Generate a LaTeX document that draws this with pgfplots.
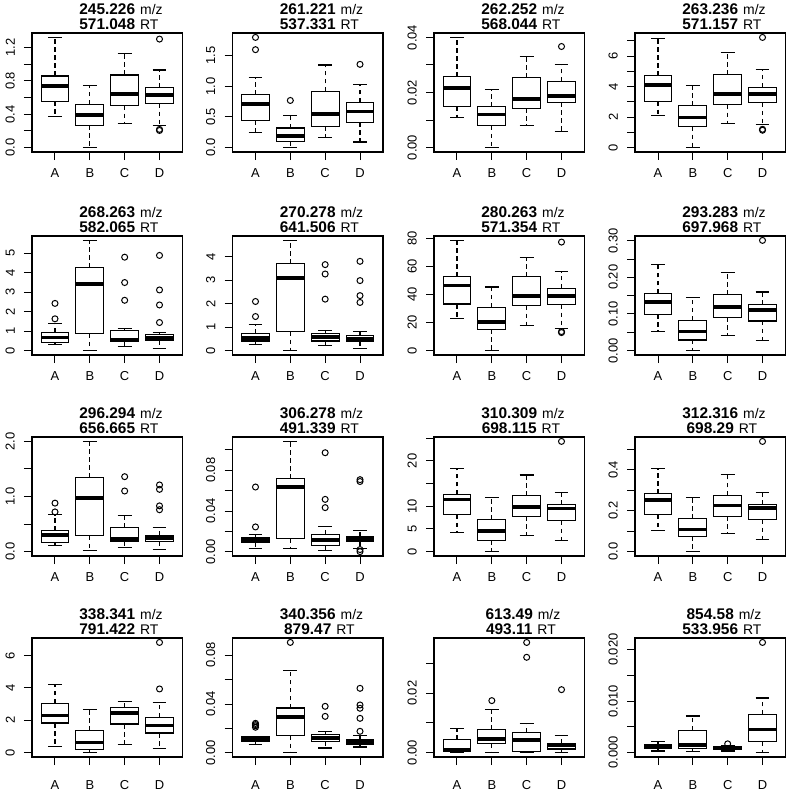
\documentclass[border=0pt]{standalone}
\usepackage{pgfplots}
\pgfplotsset{compat=1.18}
\usepgfplotslibrary{statistics}
\usepackage{fontspec}
\setmainfont{Liberation Sans}
\newcommand{\mz}{\fontsize{14}{14}\selectfont\mdseries}
\newcommand{\ttl}[2]{{\bfseries #1}\rlap{\hspace{5bp}\mz m/z}\\{\bfseries #2}\rlap{\hspace{5bp}\mz RT}}
\pgfplotsset{
  rbox/.style={
    scale only axis, width=150.5bp, height=119bp, anchor=north west,
    xmin=0.34, xmax=4.66, xtick={1,2,3,4}, xticklabels={A,B,C,D},
    scaled ticks=false,
    tick align=outside, tick pos=left, major tick length=8bp,
    every tick/.style={black, line width=1bp},
    axis line style={line width=1.1bp},
    tick label style={font=\fontsize{13}{13}\selectfont},
    yticklabel style={xshift=-9bp, rotate=90, anchor=south, inner sep=0pt},
    xticklabel style={anchor=base, inner sep=0pt, yshift=-17.5bp},
    title style={at={(0.5,1)}, anchor=south, inner sep=0pt, yshift=-2.5bp, align=center, font=\fontsize{15.5}{14.5}\selectfont},
    clip=false,
    boxplot/draw direction=y,
    boxplot/box extend=0.8,
    boxplot/whisker extend=0.4,
    boxplot/every median/.style={line width=3.8bp},
    boxplot/every box/.style={line width=1.1bp},
    boxplot/draw/lower whisker/.code={%
      \draw[line width=1.1bp, dash pattern=on 4.5bp off 3.5bp]
        (boxplot box cs:\pgfplotsboxplotvalue{lower quartile},0.5) --
        (boxplot box cs:\pgfplotsboxplotvalue{lower whisker},0.5);
      \draw[line width=1.1bp]
        (boxplot whisker cs:\pgfplotsboxplotvalue{lower whisker},0) --
        (boxplot whisker cs:\pgfplotsboxplotvalue{lower whisker},1);
    },
    boxplot/draw/upper whisker/.code={%
      \draw[line width=1.1bp, dash pattern=on 4.5bp off 3.5bp]
        (boxplot box cs:\pgfplotsboxplotvalue{upper quartile},0.5) --
        (boxplot box cs:\pgfplotsboxplotvalue{upper whisker},0.5);
      \draw[line width=1.1bp]
        (boxplot whisker cs:\pgfplotsboxplotvalue{upper whisker},0) --
        (boxplot whisker cs:\pgfplotsboxplotvalue{upper whisker},1);
    },
    every axis plot/.append style={black, line width=1.1bp, mark=o, mark size=3bp, mark options={solid, line width=1bp}},
  },
  row4/.style={xticklabel style={yshift=-7bp}},
}
\begin{document}
\begin{tikzpicture}
\useasboundingbox (0,0) rectangle (790bp,-793bp);
% ---------- row 1 ----------
\begin{axis}[rbox, at={(32bp,-33bp)}, title={\ttl{245.226}{571.048}},
  ymin=-0.053, ymax=1.373, ytick={0,0.2,0.4,0.6,0.8,1.0,1.2}, yticklabels={0.0,,0.4,,0.8,,1.2}]
\addplot[boxplot prepared={draw position=1, lower whisker=0.377, lower quartile=0.555, median=0.739, upper quartile=0.858, upper whisker=1.32}] coordinates {};
\addplot[boxplot prepared={draw position=2, lower whisker=0.0, lower quartile=0.269, median=0.393, upper quartile=0.52, upper whisker=0.743}] coordinates {};
\addplot[boxplot prepared={draw position=3, lower whisker=0.286, lower quartile=0.504, median=0.644, upper quartile=0.87, upper whisker=1.13}] coordinates {};
\addplot[boxplot prepared={draw position=4, lower whisker=0.269, lower quartile=0.528, median=0.627, upper quartile=0.715, upper whisker=0.93}] coordinates {(0,1.30) (0,0.218) (0,0.205)};
\end{axis}
\begin{axis}[rbox, at={(232.5bp,-33bp)}, title={\ttl{261.221}{537.331}},
  ymin=-0.072, ymax=1.872, ytick={0,0.5,1,1.5}, yticklabels={0.0,0.5,1.0,1.5}]
\addplot[boxplot prepared={draw position=1, lower whisker=0.24, lower quartile=0.446, median=0.717, upper quartile=0.864, upper whisker=1.15}] coordinates {(0,1.80) (0,1.60)};
\addplot[boxplot prepared={draw position=2, lower whisker=0.0, lower quartile=0.103, median=0.185, upper quartile=0.32, upper whisker=0.53}] coordinates {(0,0.77)};
\addplot[boxplot prepared={draw position=3, lower whisker=0.158, lower quartile=0.348, median=0.554, upper quartile=0.92, upper whisker=1.35}] coordinates {};
\addplot[boxplot prepared={draw position=4, lower whisker=0.092, lower quartile=0.413, median=0.59, upper quartile=0.74, upper whisker=1.03}] coordinates {(0,1.36)};
\end{axis}
\begin{axis}[rbox, at={(434bp,-33bp)}, title={\ttl{262.252}{568.044}},
  ymin=-0.0016, ymax=0.0416, ytick={0,0.01,0.02,0.03,0.04}, yticklabels={0.00,,0.02,,0.04}]
\addplot[boxplot prepared={draw position=1, lower whisker=0.0108, lower quartile=0.0149, median=0.0216, upper quartile=0.0257, upper whisker=0.040}] coordinates {};
\addplot[boxplot prepared={draw position=2, lower whisker=0.0, lower quartile=0.0079, median=0.012, upper quartile=0.0148, upper whisker=0.021}] coordinates {};
\addplot[boxplot prepared={draw position=3, lower whisker=0.0079, lower quartile=0.0143, median=0.0176, upper quartile=0.0253, upper whisker=0.0331}] coordinates {};
\addplot[boxplot prepared={draw position=4, lower whisker=0.0057, lower quartile=0.0164, median=0.0188, upper quartile=0.024, upper whisker=0.0303}] coordinates {(0,0.0367)};
\end{axis}
\begin{axis}[rbox, at={(635bp,-33bp)}, title={\ttl{263.236}{571.157}},
  ymin=-0.289, ymax=7.52, ytick={0,1,2,3,4,5,6,7}, yticklabels={0,,2,,4,,6,}]
\addplot[boxplot prepared={draw position=1, lower whisker=2.10, lower quartile=3.01, median=4.13, upper quartile=4.72, upper whisker=7.16}] coordinates {};
\addplot[boxplot prepared={draw position=2, lower whisker=0.0, lower quartile=1.38, median=1.97, upper quartile=2.75, upper whisker=4.06}] coordinates {};
\addplot[boxplot prepared={draw position=3, lower whisker=1.59, lower quartile=2.82, median=3.54, upper quartile=4.78, upper whisker=6.22}] coordinates {};
\addplot[boxplot prepared={draw position=4, lower whisker=1.51, lower quartile=2.93, median=3.52, upper quartile=3.97, upper whisker=5.15}] coordinates {(0,7.23) (0,1.20) (0,1.14)};
\end{axis}
% ---------- row 2 ----------
\begin{axis}[rbox, at={(32bp,-236bp)}, title={\ttl{268.263}{582.065}},
  ymin=-0.226, ymax=5.876, ytick={0,1,2,3,4,5}, yticklabels={0,1,2,3,4,5}]
\addplot[boxplot prepared={draw position=1, lower whisker=0.29, lower quartile=0.41, median=0.67, upper quartile=0.93, upper whisker=1.39}] coordinates {(0,2.42) (0,1.63)};
\addplot[boxplot prepared={draw position=2, lower whisker=0.0, lower quartile=0.86, median=3.42, upper quartile=4.26, upper whisker=5.65}] coordinates {};
\addplot[boxplot prepared={draw position=3, lower whisker=0.21, lower quartile=0.48, median=0.57, upper quartile=1.03, upper whisker=1.15}] coordinates {(0,4.79) (0,3.49) (0,2.58)};
\addplot[boxplot prepared={draw position=4, lower whisker=0.12, lower quartile=0.50, median=0.65, upper quartile=0.84, upper whisker=0.91}] coordinates {(0,4.88) (0,3.11) (0,2.34) (0,1.44)};
\end{axis}
\begin{axis}[rbox, at={(232.5bp,-236bp)}, title={\ttl{270.278}{641.506}},
  ymin=-0.188, ymax=4.878, ytick={0,1,2,3,4}, yticklabels={0,1,2,3,4}]
\addplot[boxplot prepared={draw position=1, lower whisker=0.27, lower quartile=0.41, median=0.54, upper quartile=0.71, upper whisker=1.10}] coordinates {(0,2.09) (0,1.45)};
\addplot[boxplot prepared={draw position=2, lower whisker=0.0, lower quartile=0.81, median=3.09, upper quartile=3.69, upper whisker=4.69}] coordinates {};
\addplot[boxplot prepared={draw position=3, lower whisker=0.2, lower quartile=0.41, median=0.57, upper quartile=0.74, upper whisker=0.84}] coordinates {(0,3.66) (0,3.26) (0,2.19)};
\addplot[boxplot prepared={draw position=4, lower whisker=0.1, lower quartile=0.38, median=0.50, upper quartile=0.63, upper whisker=0.81}] coordinates {(0,3.80) (0,2.98) (0,2.34) (0,2.05)};
\end{axis}
\begin{axis}[rbox, at={(434bp,-236bp)}, title={\ttl{280.263}{571.354}},
  ymin=-3.15, ymax=81.95, ytick={0,20,40,60,80}, yticklabels={0,20,40,60,80}]
\addplot[boxplot prepared={draw position=1, lower whisker=23.0, lower quartile=33.3, median=46.5, upper quartile=52.7, upper whisker=78.8}] coordinates {};
\addplot[boxplot prepared={draw position=2, lower whisker=0, lower quartile=15.1, median=20.6, upper quartile=31.1, upper whisker=45.5}] coordinates {};
\addplot[boxplot prepared={draw position=3, lower whisker=18.2, lower quartile=32.1, median=39.3, upper quartile=52.9, upper whisker=66.3}] coordinates {};
\addplot[boxplot prepared={draw position=4, lower whisker=15.6, lower quartile=32.8, median=39.3, upper quartile=44.6, upper whisker=56.3}] coordinates {(0,77.6) (0,13.6) (0,12.9)};
\end{axis}
\begin{axis}[rbox, at={(635bp,-236bp)}, title={\ttl{293.283}{697.968}},
  ymin=-0.012, ymax=0.313, ytick={0,0.05,0.10,0.15,0.20,0.25,0.30}, yticklabels={0.00,,0.10,,0.20,,0.30}]
\addplot[boxplot prepared={draw position=1, lower whisker=0.051, lower quartile=0.099, median=0.133, upper quartile=0.156, upper whisker=0.236}] coordinates {};
\addplot[boxplot prepared={draw position=2, lower whisker=0, lower quartile=0.029, median=0.052, upper quartile=0.083, upper whisker=0.146}] coordinates {};
\addplot[boxplot prepared={draw position=3, lower whisker=0.041, lower quartile=0.091, median=0.119, upper quartile=0.153, upper whisker=0.213}] coordinates {};
\addplot[boxplot prepared={draw position=4, lower whisker=0.0285, lower quartile=0.081, median=0.112, upper quartile=0.125, upper whisker=0.160}] coordinates {(0,0.301)};
\end{axis}
% ---------- row 3 ----------
\begin{axis}[rbox, at={(32bp,-437bp)}, title={\ttl{296.294}{656.665}},
  ymin=-0.08, ymax=2.08, ytick={0,0.5,1,1.5,2}, yticklabels={0.0,,1.0,,2.0}]
\addplot[boxplot prepared={draw position=1, lower whisker=0.109, lower quartile=0.164, median=0.303, upper quartile=0.376, upper whisker=0.667}] coordinates {(0,0.88) (0,0.72)};
\addplot[boxplot prepared={draw position=2, lower whisker=0.012, lower quartile=0.285, median=0.98, upper quartile=1.34, upper whisker=2.0}] coordinates {};
\addplot[boxplot prepared={draw position=3, lower whisker=0.079, lower quartile=0.188, median=0.224, upper quartile=0.43, upper whisker=0.648}] coordinates {(0,1.36) (0,1.10)};
\addplot[boxplot prepared={draw position=4, lower whisker=0.042, lower quartile=0.188, median=0.24, upper quartile=0.30, upper whisker=0.44}] coordinates {(0,1.21) (0,1.13) (0,0.83) (0,0.76)};
\end{axis}
\begin{axis}[rbox, at={(232.5bp,-437bp)}, title={\ttl{306.278}{491.339}},
  ymin=-0.004, ymax=0.1126, ytick={0,0.02,0.04,0.06,0.08,0.10}, yticklabels={0.00,,0.04,,0.08,}]
\addplot[boxplot prepared={draw position=1, lower whisker=0.0033, lower quartile=0.0088, median=0.0114, upper quartile=0.0137, upper whisker=0.017}] coordinates {(0,0.0636) (0,0.0245)};
\addplot[boxplot prepared={draw position=2, lower whisker=0.003, lower quartile=0.013, median=0.0636, upper quartile=0.0718, upper whisker=0.1083}] coordinates {};
\addplot[boxplot prepared={draw position=3, lower whisker=0.0013, lower quartile=0.0062, median=0.0114, upper quartile=0.017, upper whisker=0.0251}] coordinates {(0,0.0972) (0,0.0515) (0,0.0434)};
\addplot[boxplot prepared={draw position=4, lower whisker=0.0036, lower quartile=0.0098, median=0.0124, upper quartile=0.0147, upper whisker=0.0212}] coordinates {(0,0.0708) (0,0.069) (0,0.0023) (0,0.0003)};
\end{axis}
\begin{axis}[rbox, at={(434bp,-437bp)}, title={\ttl{310.309}{698.115}},
  ymin=-0.97, ymax=25.27, ytick={0,5,10,15,20,25}, yticklabels={0,5,10,,20,}]
\addplot[boxplot prepared={draw position=1, lower whisker=4.26, lower quartile=8.1, median=11.5, upper quartile=12.6, upper whisker=18.3}] coordinates {};
\addplot[boxplot prepared={draw position=2, lower whisker=0, lower quartile=2.5, median=4.6, upper quartile=7.0, upper whisker=12.0}] coordinates {};
\addplot[boxplot prepared={draw position=3, lower whisker=3.5, lower quartile=7.8, median=9.9, upper quartile=12.3, upper whisker=16.9}] coordinates {};
\addplot[boxplot prepared={draw position=4, lower whisker=2.4, lower quartile=6.8, median=9.5, upper quartile=10.3, upper whisker=13.1}] coordinates {(0,24.3)};
\end{axis}
\begin{axis}[rbox, at={(635bp,-437bp)}, title={\ttl{312.316}{698.29}},
  ymin=-0.0216, ymax=0.5606, ytick={0,0.1,0.2,0.3,0.4,0.5}, yticklabels={0.0,,0.2,,0.4,}]
\addplot[boxplot prepared={draw position=1, lower whisker=0.103, lower quartile=0.18, median=0.253, upper quartile=0.283, upper whisker=0.408}] coordinates {};
\addplot[boxplot prepared={draw position=2, lower whisker=0, lower quartile=0.074, median=0.108, upper quartile=0.16, upper whisker=0.266}] coordinates {};
\addplot[boxplot prepared={draw position=3, lower whisker=0.087, lower quartile=0.172, median=0.225, upper quartile=0.275, upper whisker=0.376}] coordinates {};
\addplot[boxplot prepared={draw position=4, lower whisker=0.059, lower quartile=0.155, median=0.212, upper quartile=0.229, upper whisker=0.291}] coordinates {(0,0.539)};
\end{axis}
% ---------- row 4 ----------
\begin{axis}[rbox, row4, at={(32bp,-638bp)}, title={\ttl{338.341}{791.422}},
  ymin=-0.273, ymax=7.093, ytick={0,2,4,6}, yticklabels={0,2,4,6}]
\addplot[boxplot prepared={draw position=1, lower whisker=0.39, lower quartile=1.83, median=2.30, upper quartile=3.06, upper whisker=4.21}] coordinates {};
\addplot[boxplot prepared={draw position=2, lower whisker=0, lower quartile=0.21, median=0.62, upper quartile=1.36, upper whisker=2.65}] coordinates {};
\addplot[boxplot prepared={draw position=3, lower whisker=0.49, lower quartile=1.77, median=2.46, upper quartile=2.77, upper whisker=3.18}] coordinates {};
\addplot[boxplot prepared={draw position=4, lower whisker=0.23, lower quartile=1.21, median=1.68, upper quartile=2.20, upper whisker=3.08}] coordinates {(0,6.82) (0,3.94)};
\end{axis}
\begin{axis}[rbox, row4, at={(232.5bp,-638bp)}, title={\ttl{340.356}{879.47}},
  ymin=-0.0033, ymax=0.0939, ytick={0,0.02,0.04,0.06,0.08}, yticklabels={0.00,,0.04,,0.08}]
\addplot[boxplot prepared={draw position=1, lower whisker=0.0068, lower quartile=0.0093, median=0.0112, upper quartile=0.0133, upper whisker=0.0135}] coordinates {(0,0.0242) (0,0.0232) (0,0.0222) (0,0.021)};
\addplot[boxplot prepared={draw position=2, lower whisker=0.0003, lower quartile=0.0141, median=0.0291, upper quartile=0.0367, upper whisker=0.0675}] coordinates {(0,0.0903)};
\addplot[boxplot prepared={draw position=3, lower whisker=0.0041, lower quartile=0.0093, median=0.0125, upper quartile=0.0152, upper whisker=0.0174}] coordinates {(0,0.0381) (0,0.0299)};
\addplot[boxplot prepared={draw position=4, lower whisker=0.0049, lower quartile=0.0068, median=0.0087, upper quartile=0.0109, upper whisker=0.0141}] coordinates {(0,0.0528) (0,0.0392) (0,0.0365) (0,0.0283) (0,0.0177)};
\end{axis}
\begin{axis}[rbox, row4, at={(434bp,-638bp)}, title={\ttl{613.49}{493.11}},
  ymin=-0.0015, ymax=0.0386, ytick={0,0.01,0.02,0.03}, yticklabels={0.00,,0.02,}]
\addplot[boxplot prepared={draw position=1, lower whisker=0, lower quartile=0.0004, median=0.0008, upper quartile=0.0044, upper whisker=0.0080}] coordinates {};
\addplot[boxplot prepared={draw position=2, lower whisker=0, lower quartile=0.003, median=0.0047, upper quartile=0.0077, upper whisker=0.0145}] coordinates {(0,0.0175)};
\addplot[boxplot prepared={draw position=3, lower whisker=0, lower quartile=0.0004, median=0.0041, upper quartile=0.0068, upper whisker=0.0099}] coordinates {(0,0.0371) (0,0.0321)};
\addplot[boxplot prepared={draw position=4, lower whisker=0, lower quartile=0.0012, median=0.0026, upper quartile=0.0032, upper whisker=0.0056}] coordinates {(0,0.0212)};
\end{axis}
\begin{axis}[rbox, row4, at={(635bp,-638bp)}, title={\ttl{854.58}{533.956}},
  ymin=-0.00086, ymax=0.02226, ytick={0,0.005,0.010,0.015,0.020}, yticklabels={0.000,,0.010,,0.020}]
\addplot[boxplot prepared={draw position=1, lower whisker=0.0003, lower quartile=0.0008, median=0.0012, upper quartile=0.0015, upper whisker=0.0022}] coordinates {};
\addplot[boxplot prepared={draw position=2, lower whisker=0.0002, lower quartile=0.0008, median=0.0015, upper quartile=0.0043, upper whisker=0.0071}] coordinates {};
\addplot[boxplot prepared={draw position=3, lower whisker=0.0003, lower quartile=0.0006, median=0.0008, upper quartile=0.0012, upper whisker=0.0014}] coordinates {(0,0.0017)};
\addplot[boxplot prepared={draw position=4, lower whisker=0, lower quartile=0.0021, median=0.0045, upper quartile=0.0074, upper whisker=0.0106}] coordinates {(0,0.0214)};
\end{axis}
\end{tikzpicture}
\end{document}
